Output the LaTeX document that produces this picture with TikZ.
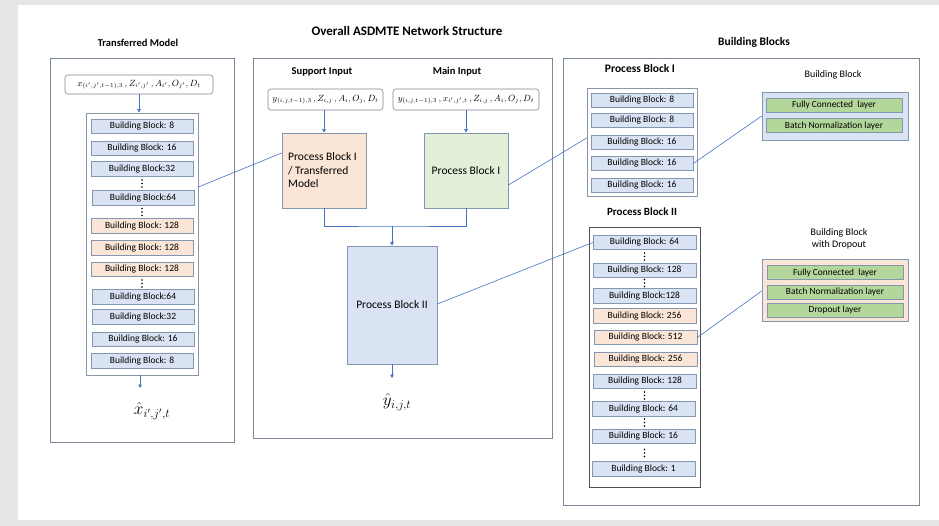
\documentclass[tikz,border=0pt]{standalone}
\usepackage{fontspec}
\setmainfont{Carlito}
\usetikzlibrary{arrows.meta,calc}
\definecolor{bggray}{HTML}{E6E6E6}
\definecolor{panelc}{HTML}{7A8794}
\definecolor{framec}{HTML}{8A96A3}
\definecolor{darkframe}{HTML}{505050}
\definecolor{bbline}{HTML}{8497B0}
\definecolor{bbblue}{HTML}{DAE3F3}
\definecolor{bborange}{HTML}{FBE5D6}
\definecolor{pbgreen}{HTML}{E2F0D9}
\definecolor{lgreen}{HTML}{B3D79A}
\definecolor{connc}{HTML}{4472C4}
\tikzset{
  panel/.style={draw=panelc, line width=0.9pt, fill=white, inner sep=0pt},
  frame/.style={draw=framec, line width=0.7pt, fill=white, inner sep=0pt},
  bb/.style={draw=bbline, fill=bbblue, line width=0.6pt, minimum width=102pt, minimum height=14.5pt, inner sep=0pt, font=\fontsize{9.5}{10}\selectfont},
  bbo/.style={bb, fill=bborange},
  layer/.style={draw=bbline, fill=lgreen, line width=0.6pt, minimum width=136pt, minimum height=14pt, inner sep=0pt, font=\fontsize{9.4}{10}\selectfont},
  formula/.style={draw=panelc, line width=0.6pt, rounded corners=3pt, fill=white, inner sep=0pt, font=\fontsize{9}{10}\selectfont},
  title/.style={font=\bfseries\fontsize{10.5}{12}\selectfont, inner sep=0pt},
  subtitle/.style={font=\bfseries\fontsize{10.5}{12}\selectfont, inner sep=0pt},
  plain/.style={font=\fontsize{10}{12}\selectfont, inner sep=0pt, align=center},
  pblock/.style={draw=bbline, line width=0.7pt, inner sep=0pt, font=\fontsize{11.5}{13.5}\selectfont},
  conn/.style={draw=connc, line width=0.6pt},
  arr/.style={conn, -{Triangle[length=3.5pt,width=3.5pt]}},
  outm/.style={font=\fontsize{17}{17}\selectfont, inner sep=0pt},
}
\newcommand\vdotsat[1]{\foreach \o in {-3.5,0,3.5}{\fill ([yshift=\o pt]#1) circle (0.9pt);}}
\begin{document}
\begin{tikzpicture}[x=1pt,y=-1pt]
\useasboundingbox (0,0) rectangle (939,526);
\fill[bggray] (0,0) rectangle (939,526);
\fill[white] (18,5) rectangle (939,520);

% ---------------- Left panel: Transferred Model
\node[panel, minimum width=184pt, minimum height=384pt] (lpanel) at (142,250) {};
\node[title] (ltitle) at (138,43) {Transferred Model};
\node[formula, minimum width=148pt, minimum height=19pt] (lin) at (139,84.5)
  {$x_{(i',j',t-1),3}\,,Z_{i',j'}\,,A_{i'},O_{j'},D_t$};
\node[frame, minimum width=112pt, minimum height=262pt] (lframe) at (142,244) {};
\node[bb]  (l1)  at (142,126.5) {Building Block: 8};
\node[bb]  (l2)  at (142,148.5) {Building Block: 16};
\node[bb]  (l3)  at (142,169)   {Building Block:32};
\coordinate (ld1) at (142,183.5); \vdotsat{ld1}
\node[bb]  (l4)  at (143,198)   {Building Block:64};
\coordinate (ld2) at (142,212); \vdotsat{ld2}
\node[bbo] (l5)  at (142,226)   {Building Block: 128};
\node[bbo] (l6)  at (142,248)   {Building Block: 128};
\node[bbo] (l7)  at (142,269.5) {Building Block: 128};
\coordinate (ld3) at (142,283.5); \vdotsat{ld3}
\node[bb]  (l8)  at (143,297)   {Building Block:64};
\node[bb]  (l9)  at (143,317)   {Building Block:32};
\node[bb]  (l10) at (143,339.5) {Building Block: 16};
\node[bb]  (l11) at (142,361)   {Building Block: 8};
\node[outm] (xout) at (152,411) {$\hat{x}_{i',j',t}$};
\coordinate (xend) at (140,388);
\draw[arr] (lin.south) -- (lin.south |- lframe.north);
\draw[arr] (xend |- lframe.south) -- (xend);

% ---------------- Middle panel
\node[panel, minimum width=299pt, minimum height=380pt] (mpanel) at (402.5,248) {};
\node[title, font=\bfseries\fontsize{13}{15}\selectfont] (mtitle) at (407,31) {Overall ASDMTE Network Structure};
\node[subtitle] (sup) at (322,72) {Support Input};
\node[subtitle] (mainl) at (457,72) {Main Input};
\node[formula, minimum width=115pt, minimum height=21pt] (sin) at (325.5,99.5)
  {$y_{(i,j,t-1),3}\,,Z_{i,j}\,,A_i,O_j,D_t$};
\node[formula, minimum width=146pt, minimum height=21pt] (min) at (466,99.5)
  {$y_{(i,j,t-1),3}\,,x_{i',j',t}\,,Z_{i,j}\,,A_i,O_j,D_t$};
\node[pblock, fill=bborange, minimum width=84pt, minimum height=75pt] (pbo) at (324,170.5) {};
\node[font=\fontsize{11.5}{13.5}\selectfont, align=left, anchor=west, inner sep=0pt] (pbotext) at (288,170.5)
  {Process Block I\\/ Transferred\\Model};
\node[pblock, fill=pbgreen, minimum width=84pt, minimum height=75pt] (pbg) at (466,170.5) {Process Block I};
\node[pblock, fill=bbblue, minimum width=90pt, minimum height=118pt] (pb2) at (392,305) {Process Block II};
\coordinate (junc) at (392,226);
\draw[arr] (sin.south -| pbo.north) -- (pbo.north);
\draw[arr] (min.south -| pbg.north) -- (pbg.north);
\draw[conn] (pbo.south) |- (junc) -| (pbg.south);
\draw[arr] (junc) -- (pb2.north);
\node[outm] (yout) at (397,402) {$\hat{y}_{i,j,t}$};
\coordinate (yend) at (392,378);
\draw[arr] (pb2.south) -- (yend);

% ---------------- Right panel
\node[panel, minimum width=356pt, minimum height=447pt] (rpanel) at (741,281.5) {};
\node[title, font=\bfseries\fontsize{11.5}{13}\selectfont] (rtitle) at (754,42) {Building Blocks};
\node[subtitle, font=\bfseries\fontsize{11.5}{13}\selectfont] (pb1t) at (640,69) {Process Block I};
\node[frame, minimum width=110pt, minimum height=108pt] (pb1f) at (642,142) {};
\node[bb] (r1) at (642,100.5) {Building Block: 8};
\node[bb] (r2) at (642,120.5) {Building Block: 8};
\node[bb] (r3) at (642,142.5) {Building Block: 16};
\node[bb] (r4) at (642,163.5) {Building Block: 16};
\node[bb] (r5) at (642,185.5) {Building Block: 16};

\node[plain] (bbt) at (833,75) {Building Block};
\node[draw=bbline, fill=bbblue, line width=0.7pt, minimum width=146pt, minimum height=48pt, inner sep=0pt] (bbf) at (835,116) {};
\node[layer] (fc1) at (834,105)   {Fully Connected \ layer};
\node[layer] (bn1) at (834,125.5) {Batch Normalization layer};

\node[subtitle, font=\bfseries\fontsize{11}{13}\selectfont] (pb2t) at (642,212) {Process Block II};
\node[draw=darkframe, line width=0.7pt, fill=white, minimum width=111pt, minimum height=260pt, inner sep=0pt] (pb2f) at (644.5,357) {};
\node[bb, minimum width=103pt]  (s1)  at (644.5,242.5) {Building Block: 64};
\coordinate (sd1) at (644.5,256.5); \vdotsat{sd1}
\node[bb, minimum width=103pt]  (s2)  at (644.5,270.5) {Building Block: 128};
\coordinate (sd2) at (644.5,283); \vdotsat{sd2}
\node[bb, minimum width=103pt]  (s3)  at (644.5,296)   {Building Block:128};
\node[bbo, minimum width=103pt] (s4)  at (644.5,316)   {Building Block: 256};
\node[bbo, minimum width=103pt] (s5)  at (645.5,337.5) {Building Block: 512};
\node[bbo, minimum width=103pt] (s6)  at (645.5,359.5) {Building Block: 256};
\node[bb, minimum width=103pt]  (s7)  at (645,381.5)   {Building Block: 128};
\coordinate (sd3) at (644.5,395.5); \vdotsat{sd3}
\node[bb, minimum width=103pt]  (s8)  at (643.5,409)   {Building Block: 64};
\coordinate (sd4) at (644.5,422.5); \vdotsat{sd4}
\node[bb, minimum width=103pt]  (s9)  at (643.5,436.5) {Building Block: 16};
\coordinate (sd5) at (644.5,453); \vdotsat{sd5}
\node[bb, minimum width=103pt]  (s10) at (643.5,469)   {Building Block: 1};

\node[plain] (bbdt) at (839,239) {Building Block\\with Dropout};
\node[draw=bbline, fill=bborange, line width=0.7pt, minimum width=146pt, minimum height=62pt, inner sep=0pt] (bbdf) at (835,290) {};
\node[layer] (fc2) at (835,272.5) {Fully Connected \ layer};
\node[layer] (bn2) at (835,292)   {Batch Normalization layer};
\node[layer] (dp2) at (835,310)   {Dropout layer};

% ---------------- Cross-panel connectors
\draw[conn] ([yshift=57pt]lframe.east) -- ([yshift=17.5pt]pbo.west);
\draw[conn] ([yshift=-14.5pt]pbg.east) -- ([yshift=4pt]pb1f.west);
\draw[conn] (r4.east) -- (bbf.west);
\draw[conn] ([yshift=1pt]pb2.east) -- (s1.west);
\draw[conn] (s5.east) -- ([yshift=-1pt]bbdf.west);
\end{tikzpicture}
\end{document}
